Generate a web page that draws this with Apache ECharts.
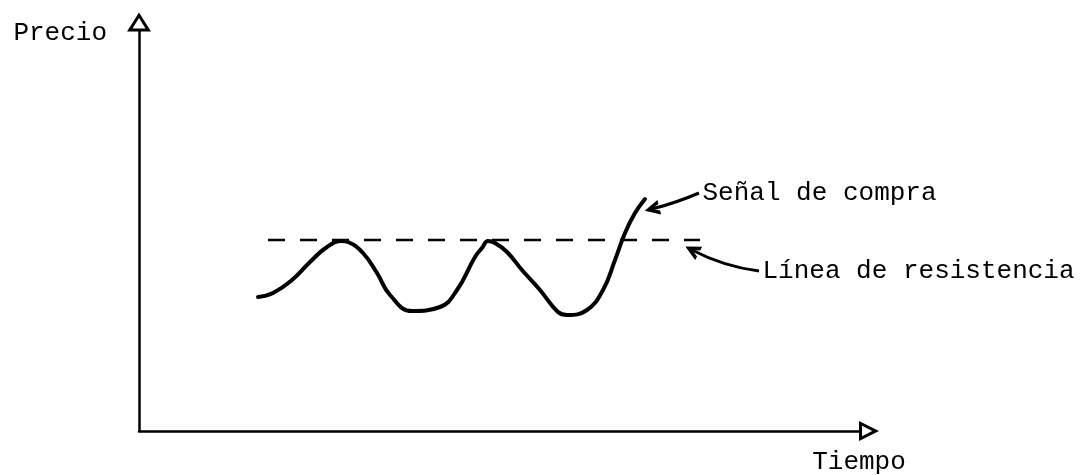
<!DOCTYPE html>
<html>
<head>
<meta charset="utf-8">
<script src="https://cdn.jsdelivr.net/npm/echarts@6/dist/echarts.min.js"></script>
<style>html,body{margin:0;padding:0;background:#fff}#c{width:1087px;height:475px}</style>
</head>
<body>
<div id="c"></div>
<script>
// ---- data (arbitrary units: time 0..720, price 0..400) ----
const xAxisName = 'Tiempo';
const yAxisName = 'Precio';
const priceTime  = [119,134,153,171,188,203,209,224,238,251,273,301,318,336,343,349,356,368,383,401,419,428,448,464,476,486,496,506];
const priceValue = [134,138,151,169,184,190,189,178,158,136,120,124,141,174,183,190,188,179,161,141,119,116,121,141,171,198,218,232];
const resistanceTime  = [129, 561];
const resistanceLevel = 191;
const signalLabel = 'Señal de compra';
const signalFrom = [560, 238];
const signalTo   = [513, 222];
const resistanceLabel = 'Línea de resistencia';
const resLabelFrom = [620, 160];
const resLabelTo   = [553, 181];

const FONT = 'Liberation Mono';
const triX = 'path://M10,0 L20,20 L0,20 Z M10,6.7 L4.85,17 L15.15,17 Z';
const triY = 'path://M12,0 L24,19 L0,19 Z M12,5.6 L5.45,16 L18.55,16 Z';
const openHead = 'path://M0,20 L10,0 L20,20 L14.5,20 L10,10 L5.5,20 Z';

const chart = echarts.init(document.getElementById('c'), null, {renderer: 'canvas'});
const txt = {color: '#000', fontFamily: FONT, fontSize: 26};
const textAt = (coord, text) => ({
  silent: true, symbol: 'circle', symbolSize: 1,
  itemStyle: {color: 'rgba(0,0,0,0)'},
  label: Object.assign({show: true, position: 'right', distance: 3, formatter: text}, txt),
  data: [{coord: coord}]
});
const arrowSeries = (from, to, curve) => ({
  type: 'lines', coordinateSystem: 'cartesian2d', silent: true, z: 3,
  symbol: ['none', openHead], symbolSize: [16, 15],
  lineStyle: {color: '#000', width: 3, opacity: 1, curveness: curve},
  data: [{coords: [from, to]}]
});

chart.setOption({
  animation: false,
  backgroundColor: '#fff',
  grid: {left: 139, right: 228, top: 31, bottom: 44, containLabel: false},
  xAxis: {
    type: 'value', min: 0, max: 720,
    name: xAxisName, nameLocation: 'end', nameGap: 0,
    nameTextStyle: Object.assign({align: 'center', verticalAlign: 'top', padding: [18, 0, 0, 0]}, txt),
    axisLine: {show: true, onZero: false, lineStyle: {color: '#000', width: 2.5},
      symbol: ['none', triX], symbolSize: [20, 20], symbolOffset: [0, 10]},
    axisTick: {show: false}, axisLabel: {show: false}, splitLine: {show: false}
  },
  yAxis: {
    type: 'value', min: 0, max: 400,
    name: yAxisName, nameLocation: 'end', nameGap: -2,
    nameTextStyle: Object.assign({align: 'right', verticalAlign: 'middle', padding: [0, 32, 0, 0]}, txt),
    axisLine: {show: true, onZero: false, lineStyle: {color: '#000', width: 2.5},
      symbol: ['none', triY], symbolSize: [24, 19], symbolOffset: [0, 9]},
    axisTick: {show: false}, axisLabel: {show: false}, splitLine: {show: false}
  },
  series: [
    {
      type: 'line', smooth: 0.45, showSymbol: false, silent: true,
      data: priceTime.map((t, i) => [t, priceValue[i]]),
      lineStyle: {color: '#000', width: 4, cap: 'round', join: 'round'},
      markPoint: textAt(signalFrom, signalLabel)
    },
    {
      type: 'line', showSymbol: false, silent: true,
      data: resistanceTime.map(t => [t, resistanceLevel]),
      lineStyle: {color: '#000', width: 2.5, type: [17, 15]},
      markPoint: textAt(resLabelFrom, resistanceLabel)
    },
    arrowSeries(signalFrom, signalTo, 0.04),
    arrowSeries(resLabelFrom, resLabelTo, 0.09)
  ]
});
</script>
</body>
</html>
